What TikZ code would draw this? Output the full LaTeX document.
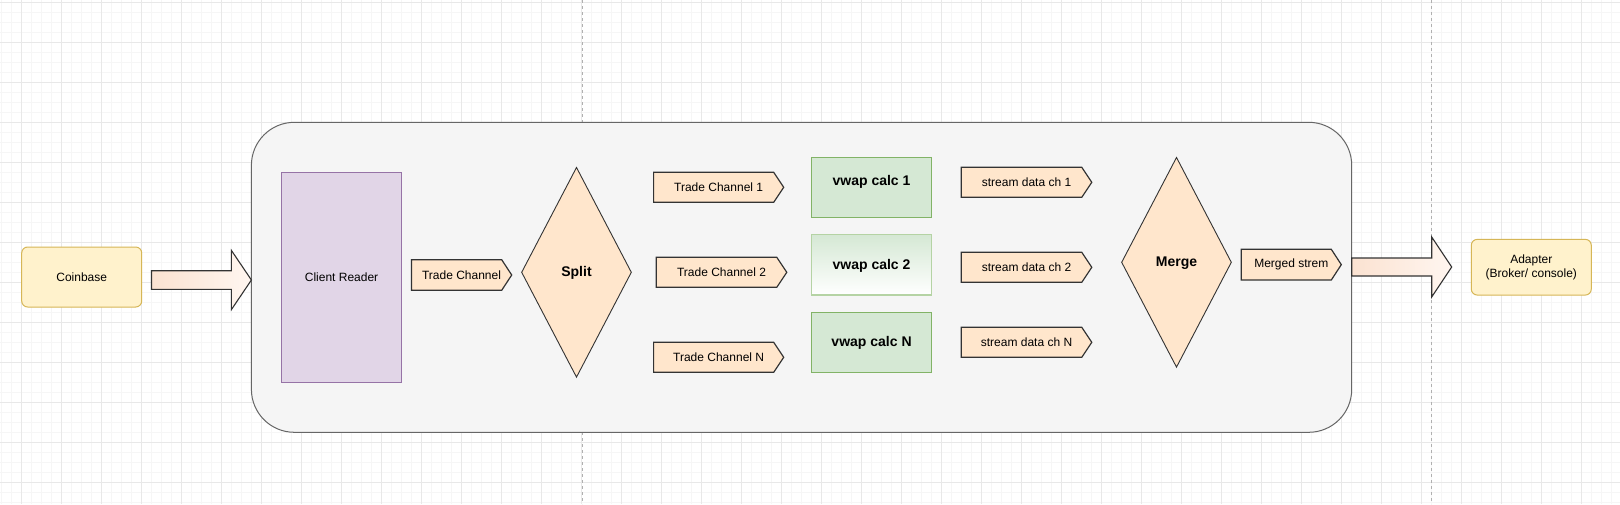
\documentclass[tikz,border=0pt]{standalone}
\usepackage{fontspec}
\setmainfont{Liberation Sans}
\usetikzlibrary{shapes.geometric,calc}
\definecolor{gridmajor}{HTML}{E8E8E8}
\definecolor{gridminor}{HTML}{F6F6F6}
\definecolor{pagebreak}{HTML}{B0B0B0}
\definecolor{contfill}{HTML}{F5F5F5}
\definecolor{contdraw}{HTML}{666666}
\definecolor{yelfill}{HTML}{FFF2CC}
\definecolor{yeldraw}{HTML}{D6B656}
\definecolor{purfill}{HTML}{E1D5E7}
\definecolor{purdraw}{HTML}{9673A6}
\definecolor{peach}{HTML}{FFE6CC}
\definecolor{greenfill}{HTML}{D5E8D4}
\definecolor{greendraw}{HTML}{82B366}
\definecolor{greenlight}{HTML}{B5D3A4}
\definecolor{arrowleft}{HTML}{FBE2D1}
\definecolor{arrowright}{HTML}{FFF6F0}
\definecolor{edgedark}{HTML}{333333}
\newcommand\pentnode[6]{%
  \draw[pentshape] (#2,#3) -- ({#4-10},#3) -- (#4,{(#3+#5)/2}) -- ({#4-10},#5) -- (#2,#5) -- cycle;
  \node[txt] (#1) at ({(#2+#4)/2},{(#3+#5)/2}) {#6};
}
\begin{document}
\begin{tikzpicture}[x=1pt,y=-1pt,
  txt/.style={font=\fontsize{12}{14}\selectfont, text=black, inner sep=0pt, align=center},
  btxt/.style={font=\fontsize{14}{16}\selectfont\bfseries, text=black, inner sep=0pt},
  pentshape/.style={fill=peach, draw=edgedark, line width=1.2pt, line join=miter},
  yelbox/.style={rectangle, rounded corners=6pt, fill=yelfill, draw=yeldraw, line width=1pt, inner sep=0pt},
  container/.style={rectangle, rounded corners=43pt, fill=contfill, draw=contdraw, line width=1pt, inner sep=0pt},
  readerbox/.style={rectangle, fill=purfill, draw=purdraw, line width=1pt, inner sep=0pt},
  calcbox/.style={rectangle, fill=greenfill, draw=greendraw, line width=1.2pt, inner sep=0pt, minimum width=120.5pt, minimum height=60pt},
  decision/.style={diamond, fill=peach, draw=edgedark, line width=0.9pt, inner sep=0pt, minimum width=110pt, minimum height=210pt},
  bigarrow/.style={left color=arrowleft, right color=arrowright, draw=edgedark, line width=1.1pt, line join=miter},
]
\useasboundingbox (0,0) rectangle (1620,504);
\fill[white] (0,0) rectangle (1620,504);
% grid
\foreach \i in {0,...,161} \draw[gridminor, line width=0.7pt] ({1.3+10*\i},0) -- ({1.3+10*\i},504);
\foreach \j in {0,...,50} \draw[gridminor, line width=0.7pt] (0,{2.7+10*\j}) -- (1620,{2.7+10*\j});
\foreach \i in {0,...,40} \draw[gridmajor, line width=0.9pt] ({-18.7+40*\i},0) -- ({-18.7+40*\i},504);
\foreach \j in {0,...,12} \draw[gridmajor, line width=0.9pt] (0,{2.7+40*\j}) -- (1620,{2.7+40*\j});
% page break lines
\draw[pagebreak, line width=0.8pt, dash pattern=on 3pt off 3pt] (582,0) -- (582,504);
\draw[pagebreak, line width=0.8pt, dash pattern=on 3pt off 3pt] (1431.7,0) -- (1431.7,504);

% container
\node[container, minimum width=1100.3pt, minimum height=310pt] (sys) at (801.55,277.3) {};

% coinbase
\node[yelbox, minimum width=120pt, minimum height=60pt, txt] (coin) at (81.7,277) {Coinbase};

% arrow into system
\coordinate (a1s) at (151.5,280);
\coordinate (a1e) at (251.4,280);
\draw[bigarrow] ($(a1s)+(0,-9.3)$) -- ($(a1e)+(-20,-9.3)$) -- ($(a1e)+(-20,-29.6)$) -- (a1e)
   -- ($(a1e)+(-20,29.6)$) -- ($(a1e)+(-20,9.3)$) -- ($(a1s)+(0,9.3)$) -- cycle;

% client reader
\node[readerbox, minimum width=120.5pt, minimum height=210pt, txt] (reader) at (341.55,277.3) {Client Reader};

% trade channel
\pentnode{tc}{411.4}{259.7}{511.7}{290.3}{Trade Channel}

% split
\node[decision] (split) at (576.5,272.3) {};
\node[btxt] (splitl) at (576.5,272.8) {Split};

% trade channels
\pentnode{tc1}{653.6}{172.3}{783.7}{202.3}{Trade Channel 1}
\pentnode{tc2}{656.3}{257.3}{786.8}{287.3}{Trade Channel 2}
\pentnode{tcn}{653.6}{342.3}{783.7}{372.3}{Trade Channel N}

% vwap calcs
\node[calcbox] (v1) at (871.55,187.3) {};
\node[btxt] (v1l) at (871.55,181.8) {vwap calc 1};
\node[calcbox, top color=greenfill, bottom color=white, draw=greenlight, minimum height=60.3pt] (v2) at (871.55,264.85) {};
\node[btxt] (v2l) at (871.55,265.5) {vwap calc 2};
\node[calcbox] (vn) at (871.55,342.3) {};
\node[btxt] (vnl) at (871.55,343.2) {vwap calc N};

% stream data
\pentnode{s1}{961.3}{167.3}{1091.8}{197.3}{stream data ch 1}
\pentnode{s2}{961.3}{252.3}{1091.8}{282.3}{stream data ch 2}
\pentnode{sn}{961.3}{327.3}{1091.8}{357.3}{stream data ch N}

% merge
\node[decision] (merge) at (1176.5,262.3) {};
\node[btxt] (mergel) at (1176.5,263) {Merge};

% merged stream
\pentnode{ms}{1241.3}{249.3}{1341.3}{280}{Merged strem}

% arrow out of system
\coordinate (a2s) at (1351.7,267);
\coordinate (a2e) at (1451.7,267);
\draw[bigarrow] ($(a2s)+(0,-9)$) -- ($(a2e)+(-20,-9)$) -- ($(a2e)+(-20,-30)$) -- (a2e)
   -- ($(a2e)+(-20,30)$) -- ($(a2e)+(-20,9)$) -- ($(a2s)+(0,9)$) -- cycle;

% adapter
\node[yelbox, minimum width=120pt, minimum height=55.7pt, txt] (adapter) at (1531.3,267.2) {Adapter\\(Broker/ console)};
\end{tikzpicture}
\end{document}
